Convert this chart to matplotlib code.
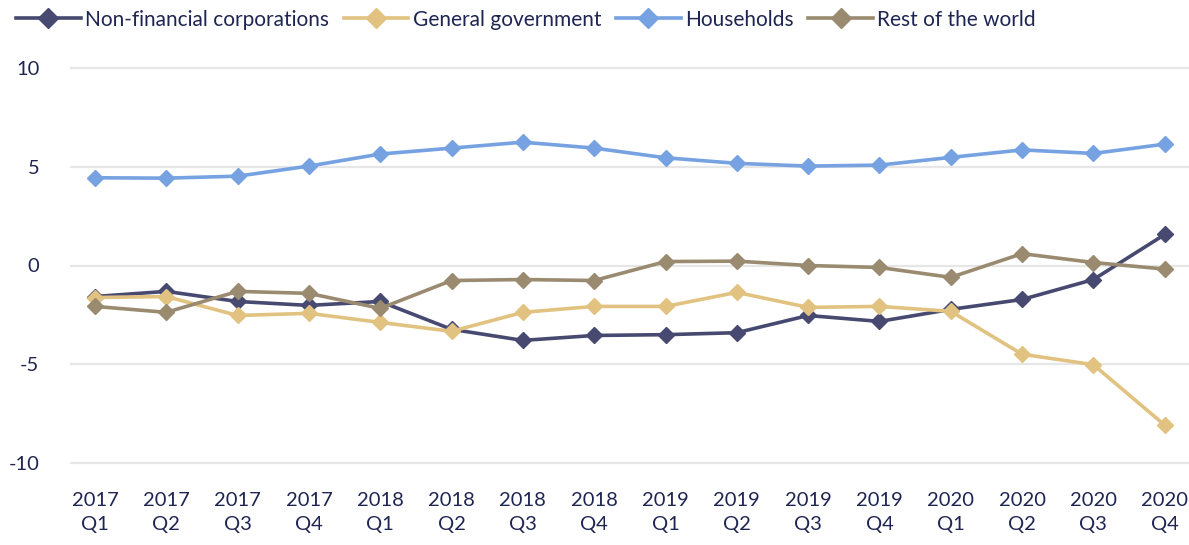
import matplotlib
matplotlib.use("Agg")
import matplotlib.pyplot as plt
import numpy as np

plt.rcParams['font.family'] = ['Lato', 'DejaVu Sans']
plt.rcParams['axes.unicode_minus'] = False

quarters = ["2017\nQ1", "2017\nQ2", "2017\nQ3", "2017\nQ4",
            "2018\nQ1", "2018\nQ2", "2018\nQ3", "2018\nQ4",
            "2019\nQ1", "2019\nQ2", "2019\nQ3", "2019\nQ4",
            "2020\nQ1", "2020\nQ2", "2020\nQ3", "2020\nQ4"]

non_financial = [-1.57, -1.31, -1.82, -2.02, -1.82, -3.23, -3.79, -3.54,
                 -3.50, -3.40, -2.53, -2.83, -2.22, -1.72, -0.71, 1.57]
general_gov = [-1.62, -1.57, -2.53, -2.42, -2.88, -3.33, -2.37, -2.07,
               -2.07, -1.36, -2.12, -2.07, -2.32, -4.49, -5.02, -8.08]
households = [4.44, 4.42, 4.52, 5.03, 5.64, 5.94, 6.24, 5.94,
              5.45, 5.17, 5.03, 5.08, 5.47, 5.85, 5.67, 6.14]
rest_world = [-2.07, -2.37, -1.31, -1.41, -2.17, -0.76, -0.71, -0.76,
              0.20, 0.22, 0.00, -0.10, -0.60, 0.60, 0.15, -0.18]

series = [
    ("Non-financial corporations", non_financial, "#474970"),
    ("General government", general_gov, "#E1C280"),
    ("Households", households, "#77A2E2"),
    ("Rest of the world", rest_world, "#9A8B70"),
]

text_color = "#1F2552"

fig = plt.figure(figsize=(11.89, 5.45), dpi=100)
ax = fig.add_axes([70/1189, (545-473)/545, 1119/1189, 415/545])

x = np.arange(len(quarters))
for name, vals, col in series:
    ax.plot(x, vals, color=col, lw=2.6, marker='D', markersize=8.5,
            label=name, clip_on=False, zorder=3)

ax.set_ylim(-10.5, 10.5)
ax.set_xlim(-0.35, 15.34)
ax.set_yticks([-10, -5, 0, 5, 10])
ax.set_xticks(x)
ax.set_xticklabels(quarters, linespacing=1.45)
ax.grid(axis='y', color='#E6E6E6', lw=1.6)
ax.set_axisbelow(True)
for s in ax.spines.values():
    s.set_visible(False)
ax.tick_params(axis='both', length=0, labelsize=14.5, colors=text_color)
ax.tick_params(axis='x', pad=14)
ax.tick_params(axis='y', pad=22)

leg = fig.legend(loc='upper left', bbox_to_anchor=(0.003, 1.005), ncol=4,
                 frameon=False, fontsize=15, handlelength=3.1,
                 columnspacing=0.72, handletextpad=0.2, borderaxespad=0.2,
                 markerscale=1.15)
for t in leg.get_texts():
    t.set_color(text_color)

fig.savefig("out.png", dpi=100)
